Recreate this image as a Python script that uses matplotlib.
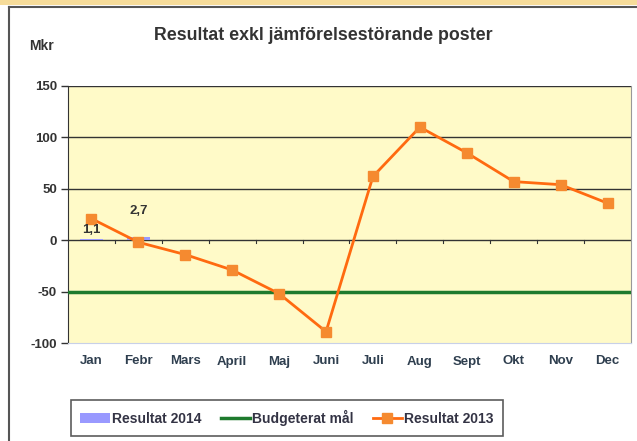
import matplotlib
matplotlib.use("Agg")
from matplotlib import pyplot as plt
from matplotlib.patches import Rectangle
from matplotlib.lines import Line2D

plt.rcParams['font.family'] = ['Liberation Sans', 'DejaVu Sans']
plt.rcParams['axes.unicode_minus'] = False

months = ["Jan", "Febr", "Mars", "April", "Maj", "Juni", "Juli", "Aug", "Sept", "Okt", "Nov", "Dec"]
res2013 = [21, -2, -14, -29, -52, -89, 62, 110, 85, 57, 54, 36]
res2014 = [1.1, 2.7]
res2014_labels = ["1,1", "2,7"]
budget = -50

fig = plt.figure(figsize=(6.37, 4.41), dpi=100)
fig.patch.set_facecolor("white")

# outer frame + top strip
fig.add_artist(Rectangle((0, 1 - 5 / 441), 1, 5 / 441, transform=fig.transFigure,
                         facecolor="#F6DC9A", edgecolor="none"))
fig.add_artist(Line2D([9 / 637, 9 / 637], [0, 1 - 7 / 441], transform=fig.transFigure,
                      color="#555555", lw=1.5))
fig.add_artist(Line2D([9 / 637, 1], [1 - 7 / 441, 1 - 7 / 441], transform=fig.transFigure,
                      color="#555555", lw=1.5))

ax = fig.add_axes([68 / 637, 1 - 343 / 441, 563 / 637, 257 / 441])
ax.set_facecolor("#FFFAC8")
x = list(range(len(months)))

for yv in [0, 50, 100, 150]:
    ax.axhline(yv, color="#333333", lw=1, zorder=1)

h1 = ax.bar(x[:len(res2014)], res2014, width=0.5, color="#9999FF", zorder=2, label="Resultat 2014")
h2 = ax.axhline(budget, color="#1E7A2E", lw=2.5, zorder=3, label="Budgeterat mål")
h3, = ax.plot(x, res2013, color="#FF6A10", lw=2, marker="s", markersize=7,
              markerfacecolor="#F58A30", markeredgecolor="#F58A30", zorder=4, label="Resultat 2013")

offsets = [9, 26]
for i, (v, lab) in enumerate(zip(res2014, res2014_labels)):
    ax.annotate(lab, (x[i], v), xytext=(0, offsets[i]), textcoords="offset pixels",
                ha="center", va="center", fontsize=9.5, fontweight="bold", color="#333333", zorder=5)

# category tick marks on the zero line
for b in [i + 0.5 for i in range(len(months) - 1)]:
    ax.plot([b, b], [0, -3], color="#333333", lw=0.8, zorder=1)

ax.set_xlim(-0.5, 11.5)
ax.set_ylim(-100, 150)
ax.set_yticks([-100, -50, 0, 50, 100, 150])
ax.set_xticks(x)
ax.set_xticklabels(months)
ax.tick_params(axis="x", length=0, pad=9, labelsize=9.5, labelcolor="#2F3F4F")
ax.tick_params(axis="y", length=5, width=1, color="#333333", labelsize=9.5, labelcolor="#333333", pad=3)
for lab in ax.get_xticklabels() + ax.get_yticklabels():
    lab.set_fontweight("bold")

ax.spines["left"].set_color("#333333")
ax.spines["right"].set_color("#999999")
ax.spines["top"].set_visible(False)
ax.spines["bottom"].set_color("#C8D0E8")

fig.text(323 / 637, 1 - 35 / 441, "Resultat exkl jämförelsestörande poster", ha="center", va="center",
         fontsize=12.8, fontweight="bold", color="#333333")
fig.text(41 / 637, 1 - 46 / 441, "Mkr", ha="center", va="center", fontsize=10, fontweight="bold",
         color="#333333")

leg = fig.legend([h1, h2, h3], ["Resultat 2014", "Budgeterat mål", "Resultat 2013"],
                 loc="center", bbox_to_anchor=(287 / 637, 1 - 418 / 441), ncol=3, fontsize=10,
                 frameon=True, fancybox=False, edgecolor="#333333", handlelength=2.1,
                 handletextpad=0.15, columnspacing=1.4, borderpad=0.7, borderaxespad=0)
leg.get_frame().set_linewidth(1.2)
for t in leg.get_texts():
    t.set_fontweight("bold")
    t.set_color("#333344")

plt.savefig("out.png", dpi=100)
